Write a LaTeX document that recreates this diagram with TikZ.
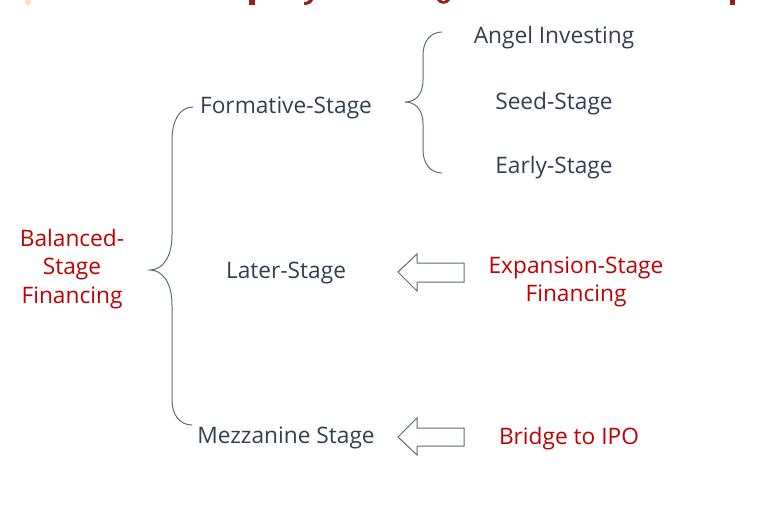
\documentclass[tikz,border=0pt]{standalone}
\usepackage{fontspec}
\setmainfont{Open Sans}
\definecolor{ink}{HTML}{333F50}
\definecolor{redtxt}{HTML}{C00000}
\definecolor{lin}{HTML}{5F6B7A}
\definecolor{ttl}{HTML}{9B1C1C}
\begin{document}
\begin{tikzpicture}[x=1pt,y=-1pt,
  lbl/.style={text=ink,font=\fontsize{22.7}{27}\selectfont,inner sep=0pt},
  rlbl/.style={text=redtxt,font=\fontsize{22.7}{28.5}\selectfont,inner sep=0pt,align=center},
  brace/.style={draw=lin,line width=1pt},
  blockarrow/.style={draw=lin,line width=1pt,fill=white}]
\useasboundingbox (0,0) rectangle (778,520);
% clipped title fragments
\fill[ttl] (249,0) rectangle (255,5);
\fill[ttl] (304,5) .. controls (309,5) and (312,3) .. (313,0) -- (309,0) .. controls (308,2) and (306,2) .. (304,2) -- cycle;
\fill[ttl] (437,0) .. controls (439,5) and (448,5) .. (450,0) -- (446,0) .. controls (445,2) and (442,2) .. (441,0) -- cycle;
\fill[ttl] (730,0) rectangle (735,5);
\fill[orange!30] (28,2) circle (3);
% nodes
\node[lbl] (angel) at (554,38) {Angel Investing};
\node[lbl] (seed) at (554,104) {Seed-Stage};
\node[lbl] (early) at (554,168) {Early-Stage};
\node[lbl] (form) at (286,108) {Formative-Stage};
\node[lbl] (later) at (286,273) {Later-Stage};
\node[lbl] (mezz) at (286,438) {Mezzanine Stage};
\node[rlbl] (bal) at (72,269) {Balanced-\\Stage\\Financing};
\node[rlbl] (exp) at (576,282) {Expansion-Stage\\Financing};
\node[rlbl] (ipo) at (569,439) {Bridge to IPO};
% braces
\draw[brace] (193,107) .. controls (180,107) and (172,120) .. (172,140) -- (172,235)
  .. controls (172,258) and (162,270) .. (150,270)
  .. controls (162,270) and (172,282) .. (172,305) -- (172,400)
  .. controls (172,415) and (180,425) .. (192,425);
\draw[brace] (442,32) .. controls (430,32) and (423,42) .. (423,55) -- (423,80)
  .. controls (423,95) and (415,102) .. (405,102)
  .. controls (415,102) and (423,109) .. (423,124) -- (423,150)
  .. controls (423,163) and (430,173) .. (442,173);
% block arrows
\draw[blockarrow] (398,272) -- (417,254) -- (417,263) -- (464,263) -- (464,282) -- (417,282) -- (417,291) -- cycle;
\draw[blockarrow] (398,437) -- (417,418) -- (417,428) -- (464,428) -- (464,446) -- (417,446) -- (417,455) -- cycle;
\end{tikzpicture}
\end{document}
